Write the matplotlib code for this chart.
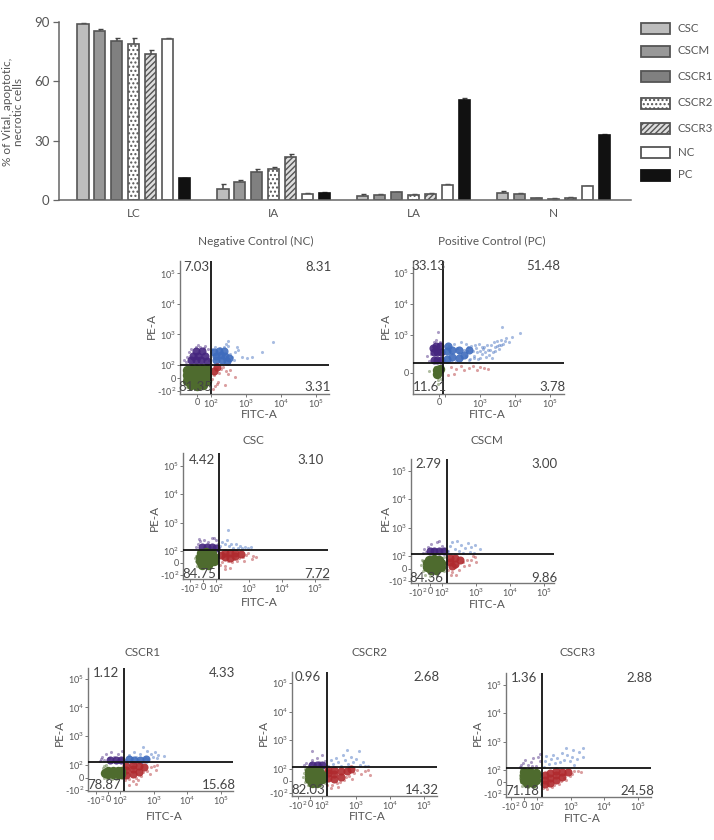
import matplotlib
matplotlib.use('Agg')
import matplotlib.pyplot as plt
from matplotlib.patches import Rectangle

plt.rcParams['font.family'] = ['Lato', 'DejaVu Sans']
plt.rcParams['mathtext.fontset'] = 'custom'
plt.rcParams['mathtext.rm'] = 'Lato'
plt.rcParams['mathtext.default'] = 'rm'
plt.rcParams['hatch.linewidth'] = 1.0

W, H = 714, 840
GREY = '#555555'

# bar chart values
groups = ['LC', 'IA', 'LA', 'N']
series = ['CSC', 'CSCM', 'CSCR1', 'CSCR2', 'CSCR3', 'NC', 'PC']
lc_vals = [89, 85.5, 80.5, 79, 74, 81.3, 11]
ia_vals = [5.5, 9, 14, 15.5, 21.5, 3, 3.5]
la_vals = [2, 2.5, 4, 2.5, 3, 7.5, 50.5]
n_vals = [3.5, 3, 1, 0.7, 1.2, 7, 33]
lc_err = [0.7, 0.8, 1.5, 3, 2, 0.8, 0.3]
ia_err = [2.5, 1, 1.5, 1, 2, 0.3, 0.3]
la_err = [1, 0.3, 0.2, 0.3, 0.3, 0.4, 1.2]
n_err = [0.8, 0.6, 0.2, 0.2, 0.5, 0.2, 0.4]

bar_face = ['#bdbdbd', '#989898', '#808080', 'white', '#dddddd', 'white', '#111111']
bar_hatch = [None, None, None, '....', '//////', None, None]
legend_y = [28, 51, 76, 103, 128, 152, 175]

# cytometry gates (FITC-A, PE-A) and quadrant percentages: UL, UR, LL, LR
nc_gate = (100, 100)
pc_gate = (63, 126)
csc_gate = (122, 109)
cscm_gate = (138, 117)
r1_gate = (130, 126)
r2_gate = (138, 117)
r3_gate = (141, 117)

nc_pct = ['7.03', '8.31', '81.35', '3.31']
pc_pct = ['33.13', '51.48', '11.61', '3.78']
csc_pct = ['4.42', '3.10', '84.75', '7.72']
cscm_pct = ['2.79', '3.00', '84.36', '9.86']
r1_pct = ['1.12', '4.33', '78.87', '15.68']
r2_pct = ['0.96', '2.68', '82.03', '14.32']
r3_pct = ['1.36', '2.88', '71.18', '24.58']

# dense parts of each event cloud, then the scattered events round them
nc_core = [(-70, 60), (-35, 65), (0, 70), (35, 70), (70, 70), (-72, 20), (-35, 20), (0, 20), (35, 20), (72, 20),
           (-70, -20), (-35, -25), (0, -25), (35, -25), (72, -25), (-40, -55), (0, -60), (40, -55),
           (-45, 140), (-10, 140), (30, 140), (70, 135), (-30, 200), (10, 200), (55, 200), (-5, 280), (35, 290),
           (140, 140), (200, 140), (290, 130), (135, 200), (190, 210), (250, 190), (170, 290), (230, 280), (320, 170),
           (120, 260), (125, 50), (150, 85)]
nc_spread = [(-80, 120), (-70, 180), (-60, 260), (-40, 340), (-10, 380), (20, 400), (50, 360), (80, 320), (-90, 150),
             (5, 450), (85, 150), (60, 420), (110, 330), (130, 380), (180, 360), (230, 400), (307, 620), (350, 230),
             (400, 180), (540, 398), (500, 260), (300, 420), (260, 470), (600, 300), (450, 140), (760, 186),
             (1050, 168), (1450, 182), (2800, 270), (5900, 562), (110, -10), (125, 20), (135, 60), (150, 80), (170, 40),
             (190, 70), (220, 85), (260, 50), (300, 30), (350, 60), (160, -30), (130, -60), (485, 10), (250, -53),
             (148, -46), (115, -85), (-95, 0), (-90, 40), (-88, -40), (-75, -70), (-50, -75), (90, -60), (95, -30)]

pc_core = [(-30, 50), (-30, -20), (15, 60), (-80, 160), (-30, 160), (30, 160), (-80, 280), (-30, 280), (30, 280),
           (-50, 450), (10, 450), (-90, 380), (110, 170), (110, 300), (160, 200), (160, 340), (240, 180), (240, 330),
           (120, 450), (340, 230), (480, 330)]
pc_spread = [(-130, 150), (-114, 250), (-100, 420), (-80, 600), (-40, 700), (10, 620), (-10, 1260), (-150, 220),
             (200, 150), (250, 260), (300, 180), (340, 330), (400, 210), (450, 420), (520, 170), (600, 300), (680, 220),
             (750, 400), (850, 170), (950, 300), (1100, 240), (1300, 420), (1500, 200), (1700, 330), (2000, 500),
             (2300, 280), (2700, 420), (3100, 640), (3500, 360), (4000, 700), (4170, 1830), (4600, 520), (5400, 820),
             (6500, 600), (8000, 900), (13500, 1150), (130, 450), (180, 520), (280, 620), (420, 320), (560, 450),
             (900, 520), (1200, 350), (1800, 230), (2500, 620), (3400, 500), (150, 150), (220, 400), (380, 520),
             (640, 180), (780, 280), (1000, 180), (1150, 420), (1400, 280), (1600, 480), (1900, 340), (2200, 190),
             (2600, 300), (3000, 450), (3800, 480), (5000, 640), (700, 480), (480, 160), (150, 90), (200, 60), (280, 100),
             (350, 40), (480, 70), (620, 100), (800, 50), (1000, 90), (1300, 70), (1700, 60), (120, -30), (180, -20),
             (-60, 90), (-70, 20), (-60, -50), (-20, -100), (30, -90), (-130, 30), (-10, -140)]

csc_core = [(-25, 50), (15, 50), (55, 50), (85, 50), (-25, 15), (15, 10), (55, 10), (85, 15), (-15, 85), (25, 88),
            (65, 85), (-5, -15), (40, -15), (-10, 140), (30, 135), (70, 135), (100, 130),
            (140, 70), (180, 50), (180, 85), (260, 40), (260, 80), (380, 60), (380, 85), (560, 75)]
csc_spread = [(-40, 170), (-20, 220), (10, 250), (40, 210), (70, 280), (100, 240), (-50, 140), (110, 180), (-30, 260),
              (85, 290), (130, 150), (150, 210), (180, 170), (210, 250), (240, 150), (290, 180), (330, 130), (390, 170),
              (450, 130), (520, 150), (620, 125), (750, 140), (900, 130), (1100, 135), (228, 550), (130, -20), (150, 10),
              (190, -25), (230, 15), (300, 5), (340, 30), (420, 20), (500, 40), (650, 50), (800, 70), (950, 85),
              (1250, 30), (1300, 60), (720, 20), (260, -40), (180, -50), (1580, 50), (-55, 20), (-50, 60), (-45, -25),
              (-30, 100), (105, 30), (110, 70), (-40, 90), (0, -45), (50, -45), (-60, 45)]

cscm_core = [(-25, 45), (16, 45), (57, 45), (90, 45), (-25, 12), (16, 10), (57, 10), (90, 15), (-10, 72), (30, 75),
             (70, 72), (5, -15), (45, -12), (0, 145), (35, 145), (75, 150), (110, 145),
             (170, 50), (170, 85), (240, 40), (240, 85), (330, 70), (200, 20)]
cscm_spread = [(-60, 130), (-45, 170), (-20, 210), (10, 260), (35, 180), (60, 300), (73, 340), (95, 230), (115, 170),
               (-30, 140), (15, 130), (85, 160), (150, 150), (170, 230), (200, 300), (240, 180), (280, 330), (320, 150),
               (360, 240), (420, 130), (480, 190), (560, 280), (650, 140), (720, 210), (850, 130), (950, 240),
               (1250, 170), (150, -10), (190, -30), (230, 10), (280, 25), (310, -15), (400, 50), (450, 20), (520, 65),
               (620, 30), (700, 70), (800, 100), (950, 95), (1000, 50), (180, -55), (260, -50), (-70, 30), (-60, -20),
               (-55, 60), (-40, -50), (0, -60), (60, -55), (115, -20), (120, 40), (-65, 70), (110, 90)]

r1_core = [(0, 50), (40, 50), (85, 50), (110, 50), (0, 25), (40, 25), (85, 25), (110, 25), (-25, 35),
           (20, 150), (70, 150), (110, 150), (180, 155), (260, 150), (400, 150), (600, 160),
           (150, 20), (150, 60), (150, 95), (240, 30), (240, 70), (240, 100), (360, 45), (360, 90), (520, 80)]
r1_spread = [(-70, 140), (-50, 190), (-35, 150), (-15, 230), (5, 170), (25, 280), (50, 190), (80, 240), (105, 160),
             (115, 300), (-60, 160), (70, 140), (150, 150), (180, 220), (220, 170), (260, 290), (300, 190), (350, 150),
             (400, 240), (480, 420), (540, 180), (620, 300), (700, 160), (820, 230), (950, 190), (1100, 280),
             (1250, 170), (1400, 220), (2000, 210), (140, -20), (190, -15), (240, -30), (300, 0), (350, -20), (430, 10),
             (480, 40), (620, 50), (760, 30), (850, 80), (1000, 95), (1150, 60), (1300, 100), (180, -60), (300, -55),
             (-45, 40), (-40, 75), (-35, 0), (-30, 90), (-10, -10), (30, -15), (70, -10), (115, -5), (125, 70), (-20, 100)]

r2_core = [(-10, 50), (35, 50), (75, 50), (100, 50), (-10, 15), (35, 15), (75, 15), (100, 15), (-5, 85), (35, 88),
           (75, 85), (15, -15), (60, -15), (20, 140), (60, 140), (100, 140),
           (150, 25), (150, 65), (150, 95), (230, 15), (230, 55), (230, 95), (350, 30), (350, 80), (530, 80), (700, 100)]
r2_spread = [(-50, 140), (-30, 160), (-10, 130), (16, 426), (20, 200), (40, 150), (60, 250), (75, 170), (100, 300),
             (120, 190), (5, 160), (90, 140), (150, 130), (180, 200), (210, 150), (260, 250), (300, 170), (350, 130),
             (400, 300), (460, 200), (550, 457), (600, 150), (700, 260), (820, 170), (1000, 220), (1230, 426),
             (1300, 140), (1600, 180), (2200, 130), (1900, 125), (140, -30), (200, -35), (280, -20), (340, -10),
             (430, 5), (500, 30), (640, 45), (760, 20), (900, 70), (1100, 90), (1400, 60), (1800, 80), (2630, 50),
             (2200, 95), (180, -55), (300, -50), (-55, 30), (-50, 65), (-45, -10), (-30, 95), (-20, -30), (30, -45),
             (80, -40), (125, -20), (125, 80), (-40, 100)]

r3_core = [(0, 50), (50, 50), (95, 50), (0, 17), (50, 17), (95, 17), (0, 80), (50, 80), (95, 78), (25, -10), (70, -10),
           (170, -20), (170, 20), (170, 60), (250, -10), (250, 30), (250, 75), (380, 15), (380, 60), (380, 95),
           (570, 45), (570, 85), (850, 80)]
r3_spread = [(-30, 130), (-10, 170), (10, 220), (30, 150), (55, 190), (70, 260), (90, 140), (125, 363), (120, 210),
             (110, 280), (-20, 145), (60, 135), (160, 130), (170, 210), (190, 300), (230, 160), (260, 240), (300, 340),
             (350, 170), (400, 270), (480, 190), (550, 400), (725, 590), (650, 230), (800, 330), (950, 200), (1100, 280),
             (1300, 150), (1500, 240), (1800, 420), (2340, 590), (2340, 280), (1200, 500), (150, -50), (200, -55),
             (280, -40), (330, -25), (460, -15), (520, 10), (650, 30), (750, 15), (950, 50), (1100, 70), (1300, 90),
             (1600, 95), (2000, 80), (700, 70), (-35, 30), (-30, 60), (-25, 0), (-20, 90), (-15, -30), (30, -45),
             (80, -40), (130, -15), (130, 70), (-25, 105)]

x_ticks = [-100, 0, 100, 1000, 10000, 100000]
x_labels = ['-10$^{2}$', '0', '10$^{2}$', '10$^{3}$', '10$^{4}$', '10$^{5}$']
y_ticks = [-100, 0, 100, 1000, 10000, 100000]
y_labels = ['-10$^{2}$', '0', '10$^{2}$', '10$^{3}$', '10$^{4}$', '10$^{5}$']


def px_axes(fig, left, right, top, bottom):
    return fig.add_axes([left / W, 1 - bottom / H, (right - left) / W, (bottom - top) / H])


def from_channel(u, lin):
    # inverse of the symlog display scale, in decades from zero
    if abs(u) <= lin:
        return u / lin * 100
    sign = 1 if u > 0 else -1
    return sign * 100 * 10 ** (abs(u) - lin)


def dot_plot(box, xcal, ycal, core, spread, gate):
    left, right, top, bottom = box
    x0, dx, xlin = xcal
    y0, dy, ylin = ycal
    ax = px_axes(fig, left, right, top, bottom)
    ax.patch.set_alpha(0)
    ax.set_xscale('symlog', linthresh=100, linscale=xlin * 0.9)
    ax.set_yscale('symlog', linthresh=100, linscale=ylin * 0.9)
    ax.set_xlim(from_channel((left - x0) / dx, xlin), from_channel((right - x0) / dx, xlin))
    ax.set_ylim(from_channel((y0 - bottom) / dy, ylin), from_channel((y0 - top) / dy, ylin))

    # colour each event by the quadrant it falls in
    for pts, size, alpha in ((spread, 5, 0.45), (core, 34, 0.9)):
        for name, colour in (('violet', '#45257f'), ('blue', '#3f6cbd'), ('red', '#b02a2e'), ('green', '#4e6b2e')):
            sel = []
            for px, py in pts:
                if px < gate[0]:
                    q = 'violet' if py >= gate[1] else 'green'
                else:
                    q = 'blue' if py >= gate[1] else 'red'
                if q == name:
                    sel.append((px, py))
            if not sel:
                continue
            xs, ys = zip(*sel)
            s = size * 1.35 if (name == 'green' and size > 5) else size
            a = 1.0 if (name == 'green' and size > 5) else alpha
            ax.scatter(xs, ys, s=s, color=colour, alpha=a, linewidths=0, zorder=3)

    ax.axvline(gate[0], color='#111111', lw=1.3, zorder=5)
    ax.axhline(gate[1], color='#111111', lw=1.3, zorder=5)
    for side in ['top', 'right']:
        ax.spines[side].set_visible(False)
    for side in ['left', 'bottom']:
        ax.spines[side].set_color('#777777')
        ax.spines[side].set_linewidth(1.0)
    ax.minorticks_off()
    ax.tick_params(length=2, width=0.7, color='#777777', labelsize=6.6, labelcolor=GREY, pad=0.8)
    return ax


def panel_text(title, title_xy, xlab_xy, ylab_xy, pct, pct_xy):
    over.text(title_xy[0], title_xy[1], title, ha='center', va='center', fontsize=8.5, color=GREY)
    over.text(xlab_xy[0], xlab_xy[1], 'FITC-A', ha='center', va='center', fontsize=8.5, color=GREY)
    over.text(ylab_xy[0], ylab_xy[1], 'PE-A', ha='center', va='center', rotation=90, fontsize=8.5, color=GREY)
    for label, (tx, ty) in zip(pct, pct_xy):
        over.text(tx, ty, label, ha='center', va='center', fontsize=9.5, color='#444444')


fig = plt.figure(figsize=(W / 100, H / 100), dpi=100, facecolor='white')

# bars
ax = px_axes(fig, 59, 631, 22, 200)
ax.patch.set_alpha(0)
all_vals = [lc_vals, ia_vals, la_vals, n_vals]
all_err = [lc_err, ia_err, la_err, n_err]
step = 8.28
for g, (vals, errs) in enumerate(zip(all_vals, all_err)):
    for i in range(len(series)):
        edge = '#111111' if series[i] == 'PC' else '#555555'
        ax.bar(g * step + i, vals[i], width=0.66, color=bar_face[i], edgecolor=edge, linewidth=1.2,
               hatch=bar_hatch[i], zorder=2)
        ax.errorbar(g * step + i, vals[i], yerr=[[0], [errs[i]]], color='#444444', elinewidth=1.1,
                    capsize=1.8, capthick=1.0, zorder=1)
ax.set_xlim(-1.42, 32.42)
ax.set_ylim(0, 90)
ax.set_yticks([0, 30, 60, 90])
ax.set_xticks([g * step + 3 for g in range(4)])
ax.set_xticklabels(groups)
ax.tick_params(axis='y', length=4, width=0.9, color='#666666', labelsize=9.5, labelcolor=GREY, pad=3)
ax.tick_params(axis='x', length=0, labelsize=8.5, labelcolor=GREY, pad=6)
for side in ['top', 'right']:
    ax.spines[side].set_visible(False)
for side in ['left', 'bottom']:
    ax.spines[side].set_color('#666666')
    ax.spines[side].set_linewidth(1.1)

# flow cytometry dot plots
dot_plot((180, 329, 261, 394), (197, 35, 0.4), (378, 30.5, 0.43), nc_core, nc_spread, nc_gate).set(
    xticks=x_ticks[1:], xticklabels=x_labels[1:], yticks=y_ticks, yticklabels=y_labels)
dot_plot((413, 564, 261, 394), (439, 35, 0.18), (373, 31, 0.22), pc_core, pc_spread, pc_gate).set(
    xticks=x_ticks[1:], xticklabels=['0', '', '10$^{3}$', '10$^{4}$', '10$^{5}$'],
    yticks=[0, 1000, 10000, 100000], yticklabels=['0', '10$^{3}$', '10$^{4}$', '10$^{5}$'])
dot_plot((183, 328, 453, 579), (203, 33, 0.4), (563, 28.5, 0.42), csc_core, csc_spread, csc_gate).set(
    xticks=x_ticks, xticklabels=x_labels, yticks=y_ticks, yticklabels=y_labels)
dot_plot((411, 554, 459, 583), (430, 34, 0.36), (568.5, 28.4, 0.44), cscm_core, cscm_spread, cscm_gate).set(
    xticks=x_ticks, xticklabels=x_labels, yticks=y_ticks, yticklabels=y_labels)
dot_plot((88, 233, 668, 791), (108, 33.5, 0.36), (777.5, 28.7, 0.44), r1_core, r1_spread, r1_gate).set(
    xticks=x_ticks, xticklabels=x_labels, yticks=y_ticks, yticklabels=y_labels)
dot_plot((292, 437, 672, 796), (310, 33.8, 0.36), (781, 28.7, 0.42), r2_core, r2_spread, r2_gate).set(
    xticks=x_ticks, xticklabels=x_labels, yticks=y_ticks, yticklabels=y_labels)
dot_plot((506, 651, 673, 797), (524, 33.8, 0.38), (782, 28.5, 0.42), r3_core, r3_spread, r3_gate).set(
    xticks=x_ticks, xticklabels=x_labels, yticks=y_ticks, yticklabels=y_labels)

# free text and legend, placed in figure pixels
over = fig.add_axes([0, 0, 1, 1], zorder=10)
over.set_xlim(0, W)
over.set_ylim(H, 0)
over.axis('off')
over.text(13, 112, '% of Vital, apoptotic,\nnecrotic cells', rotation=90, ha='center', va='center',
          fontsize=8.5, color=GREY, linespacing=1.1)

panel_text('Negative Control (NC)', (256, 241), (259, 415), (151, 326), nc_pct,
           [(196, 267), (318, 267), (195, 387), (318, 387)])
panel_text('Positive Control (PC)', (492, 241), (487, 415), (385, 326), pc_pct,
           [(428, 266), (543, 266), (430, 387), (552, 387)])
panel_text('CSC', (253, 440), (259, 603), (154, 518), csc_pct,
           [(202, 460), (311, 460), (199, 574), (317, 574)])
panel_text('CSCM', (487, 440), (487, 604), (385, 518), cscm_pct,
           [(428, 464), (544, 464), (426, 578), (544, 578)])
panel_text('CSCR1', (143, 653), (164, 816), (59, 733), r1_pct,
           [(106, 673), (222, 673), (104, 785), (219, 785)])
panel_text('CSCR2', (369, 653), (367, 817), (263, 733), r2_pct,
           [(308, 677), (426, 677), (308, 790), (422, 790)])
panel_text('CSCR3', (578, 653), (582, 818), (477, 733), r3_pct,
           [(524, 678), (639, 678), (522, 791), (637, 791)])

for i, name in enumerate(series):
    edge = '#111111' if name == 'PC' else '#555555'
    over.add_patch(Rectangle((641, legend_y[i] - 5.5), 29, 11, facecolor=bar_face[i], edgecolor=edge,
                             linewidth=1.3, hatch=bar_hatch[i]))
    over.text(678, legend_y[i], name, ha='left', va='center', fontsize=8.3, color=GREY)

fig.savefig('out.png', dpi=100)
